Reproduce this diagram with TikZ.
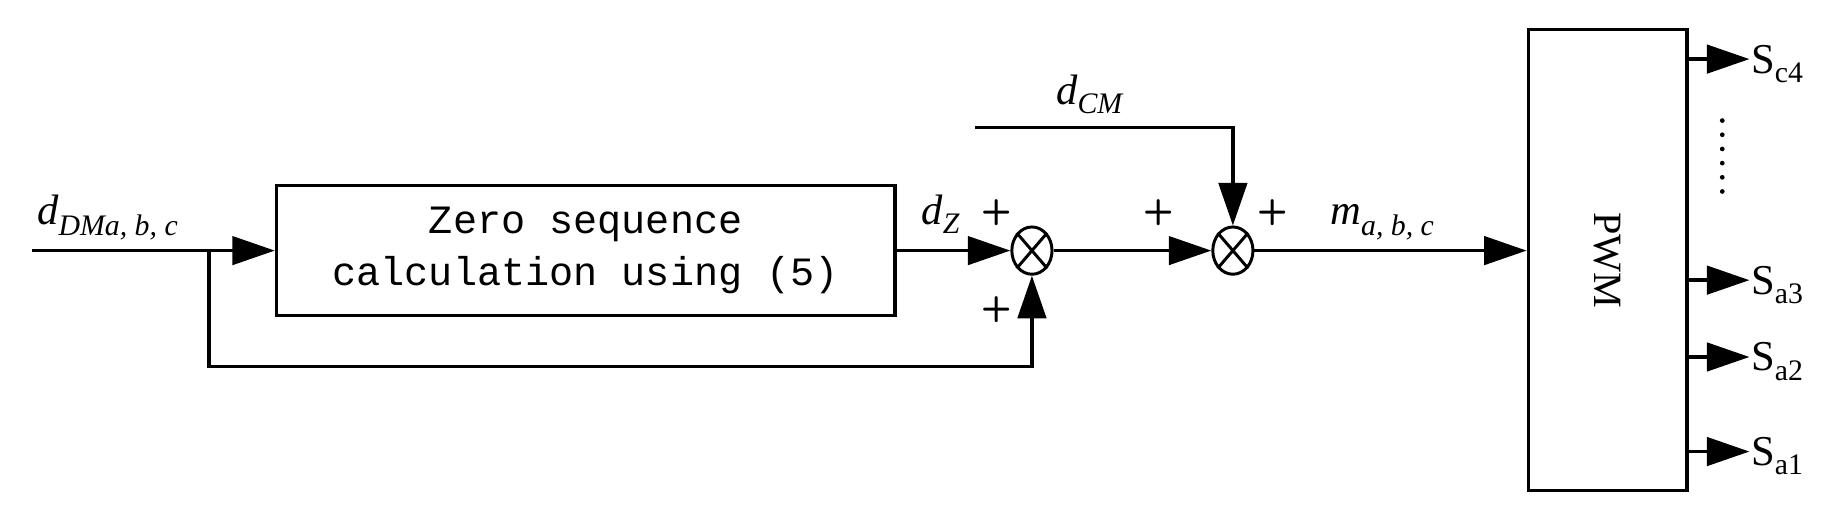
\documentclass[tikz,border=0pt]{standalone}
\usepackage{fontspec}
\setmainfont{Liberation Serif}
\newfontfamily\monof{Liberation Mono}
\usetikzlibrary{arrows.meta,shapes.geometric}
\newcommand{\itsub}[2]{\textit{#1}\textsubscript{\textit{#2}}}
\begin{document}
\begin{tikzpicture}[x=1pt,y=-1pt,line width=3pt,
  arr/.style={-{Triangle[length=36pt,width=24pt]}},
  sumnode/.style={draw,ellipse,minimum width=34pt,minimum height=40pt,inner sep=0pt,line width=2.5pt},
  lbl/.style={font=\fontsize{36}{38}\selectfont,inner sep=0pt},
  pl/.style={font=\sffamily\bfseries\fontsize{30}{30}\selectfont,inner sep=0pt}]
\useasboundingbox (0,0) rectangle (1560,431);
\node[draw,minimum width=523pt,minimum height=110pt,inner sep=0pt,font=\monof\fontsize{34}{44}\selectfont,align=center] (zs) at (495.5,212) {Zero sequence\\calculation using (5)};
\node[draw,minimum width=134pt,minimum height=390pt,inner sep=0pt] (pwm) at (1360,220) {};
\node[rotate=-90,font=\fontsize{34}{36}\selectfont] at (pwm.center) {PWM};
\node[sumnode] (s1) at (873,212) {};
\node[sumnode] (s2) at (1043,212) {};
\draw[line width=2.5pt] (s1.north east)--(s1.south west) (s1.north west)--(s1.south east);
\draw[line width=2.5pt] (s2.north east)--(s2.south west) (s2.north west)--(s2.south east);
\coordinate (in) at (27,212);
\coordinate (br) at (177,212);
\coordinate (cm) at (825,108);
\draw[arr] (in) -- (zs.west);
\draw[arr] (br) |- (177,310) -| (s1.south);
\draw[arr] (zs.east) -- (s1.west);
\draw[arr] (s1.east) -- (s2.west);
\draw[arr] (cm) -| (s2.north);
\draw[arr] (s2.east) -- (pwm.west |- s2.east);
\node[lbl,anchor=base west] at (30,190) {\itsub{d}{DMa, b, c}};
\node[lbl,anchor=base west] at (778,190) {\itsub{d}{Z}};
\node[lbl,anchor=base west] at (892,88) {\itsub{d}{CM}};
\node[lbl,anchor=base west] at (1124,190) {\itsub{m}{a, b, c}};
\node[pl] at (843,180) {+};
\node[pl] at (843,262) {+};
\node[pl] at (980,180) {+};
\node[pl] at (1077,180) {+};
\foreach \y/\n/\t in {50/c4/{c4},237/a3/{a3},302/a2/{a2},382/a1/{a1}}{
  \coordinate (o\n) at (1427,\y);
  \node[lbl,anchor=west] (l\n) at (1480,\y+4) {S\textsubscript{\t}};
  \draw[arr] (o\n) -- (l\n.west |- o\n);
}
\foreach \y in {102,114,126,138,150,162} \fill (1457,\y) circle (2pt);
\end{tikzpicture}
\end{document}
